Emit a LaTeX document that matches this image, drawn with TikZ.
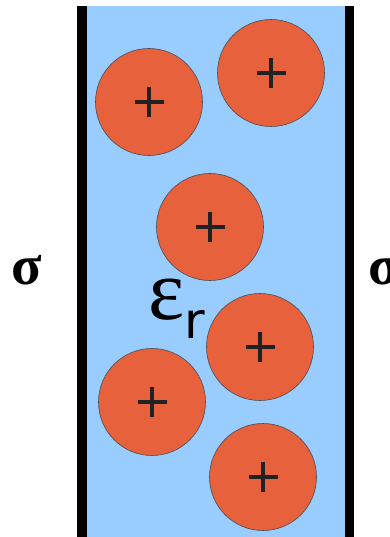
\documentclass[tikz,border=0pt]{standalone}
\usepackage{fontspec}
\newfontfamily\sigfont{Liberation Serif}
\newfontfamily\epsfont{DejaVu Sans}
\definecolor{fluid}{HTML}{99CCFF}
\definecolor{ion}{HTML}{E8613D}
\definecolor{ink}{HTML}{222222}
\begin{document}
\begin{tikzpicture}[x=1pt,y=-1pt,
  ionc/.style={circle,fill=ion,draw=black!70,line width=0.6pt,minimum size=107pt,inner sep=0pt},
  plus/.style={line width=4pt,ink},
  wall/.style={fill=black}]
\useasboundingbox (0,0) rectangle (390,537);
\fill[fluid] (82,6) rectangle (349,537);
\fill[wall] (77,6) rectangle (87,537);
\fill[wall] (345,6) rectangle (354,537);
\foreach \n/\x/\y in {a/149/102, b/271/73, c/210/227, d/260/347, e/152/402, f/263/477}{
  \node[ionc] (\n) at (\x,\y) {};
  \draw[plus] ([xshift=-14.5pt]\n.center) -- ([xshift=14.5pt]\n.center);
  \draw[plus] ([yshift=-15pt]\n.center) -- ([yshift=15pt]\n.center);
}
\node[font=\sigfont\bfseries\fontsize{56}{60}\selectfont,inner sep=0pt] (sl) at (27,270) {σ};
\node[font=\sigfont\bfseries\fontsize{56}{60}\selectfont,inner sep=0pt,anchor=west] (sr) at (368,270) {σ};
\node[font=\sigfont\fontsize{86}{90}\selectfont,inner sep=0pt] (eps) at (167,300) {ε};
\node[font=\epsfont\fontsize{50}{54}\selectfont,inner sep=0pt] (r) at (195,324) {r};
\end{tikzpicture}
\end{document}
